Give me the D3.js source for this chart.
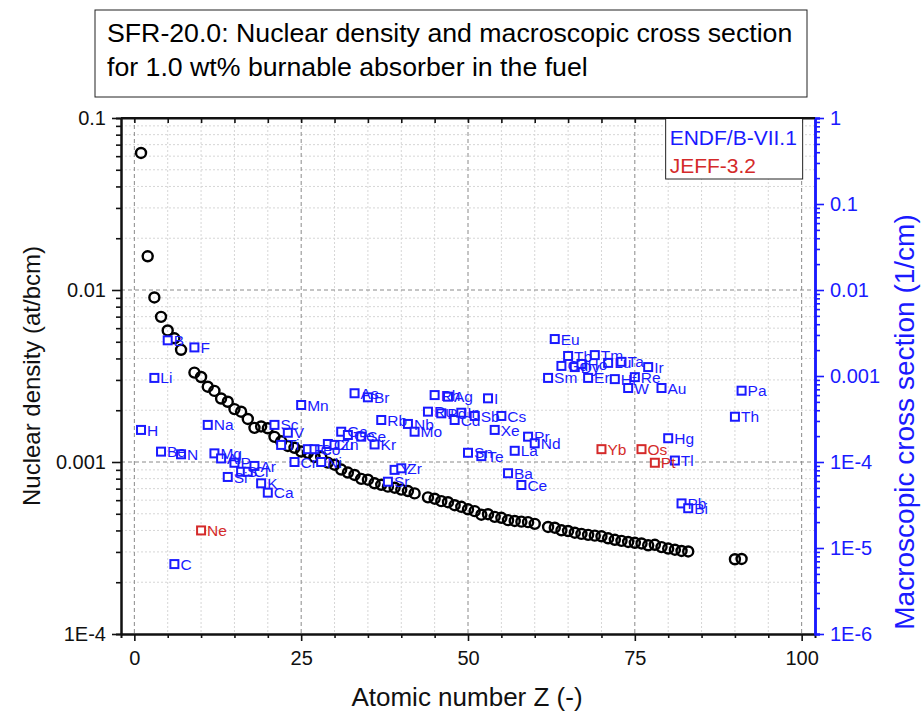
<!DOCTYPE html>
<html lang="en">
<head>
<meta charset="utf-8"/>
<script src="https://d3js.org/d3.v7.min.js"></script>
<style>
  body { margin: 0; background: #fff; }
  svg text { font-family: "Liberation Sans", Arial, sans-serif; }
</style>
</head>
<body>
<div id="chart"></div>
<script>
// nuclear density (at/bcm), left axis
var densZ = [1,2,3,4,5,6,7,9,10,11,12,13,14,15,16,17,18,19,20,21,22,23,24,25,26,27,28,29,30,
    31,32,33,34,35,36,37,38,39,40,41,42,44,45,46,47,48,49,50,51,52,53,54,55,56,57,58,59,60,
    62,63,64,65,66,67,68,69,70,71,72,73,74,75,76,77,78,79,80,81,82,83,90,91];
var densVal = [0.0626,0.0157,0.00905,0.00698,0.00582,0.00524,0.00449,0.00331,0.00312,0.00274,
    0.00259,0.00234,0.00224,0.00203,0.00196,0.00178,0.00158,0.00161,0.00157,0.00140,0.00132,
    0.00124,0.00121,0.00115,0.00113,0.00107,0.00107,0.000992,0.000964,0.000904,0.000868,
    0.000841,0.000798,0.000789,0.000752,0.000737,0.000719,0.000709,0.000691,0.000678,0.000657,
    0.000623,0.000612,0.000592,0.000584,0.000561,0.000549,0.000531,0.000518,0.000494,0.000497,
    0.000480,0.000474,0.000459,0.000454,0.000450,0.000447,0.000437,0.000419,0.000415,0.000401,
    0.000397,0.000388,0.000382,0.000377,0.000373,0.000370,0.000360,0.000353,0.000348,0.000343,
    0.000339,0.000336,0.000328,0.000330,0.000320,0.000314,0.000309,0.000304,0.000302,0.000272,
    0.000273];

// macroscopic cross section (1/cm), right axis
var endfSym = ["H","Li","Be","B","C","N","F","Na","Mg","Al","Si","P","S","Cl","Ar","K","Ca",
    "Sc","Ti","V","Cr","Mn","Fe","Co","Ni","Cu","Zn","Ga","Ge","As","Se","Br","Kr","Rb","Sr",
    "Y","Zr","Nb","Mo","Ru","Rh","Pd","Ag","Cd","In","Sn","Sb","Te","I","Xe","Cs","Ba","La",
    "Ce","Pr","Nd","Sm","Eu","Gd","Tb","Dy","Ho","Er","Tm","Lu","Hf","Ta","W","Re","Ir","Au",
    "Hg","Tl","Pb","Bi","Th","Pa"];
var endfZ = [1,3,4,5,6,7,9,11,12,13,14,15,16,17,18,19,20,21,22,23,24,25,26,27,28,29,30,31,32,
    33,34,35,36,37,38,39,40,41,42,44,45,46,47,48,49,50,51,52,53,54,55,56,57,58,59,60,62,63,64,
    65,66,67,68,69,71,72,73,74,75,77,79,80,81,82,83,90,91];
var endfVal = [2.36e-4,9.5e-4,1.32e-4,2.6e-3,6.5e-6,1.23e-4,2.15e-3,2.7e-4,1.26e-4,1.1e-4,
    6.7e-5,9.8e-5,7.7e-5,7.7e-5,9.0e-5,5.65e-5,4.4e-5,2.7e-4,1.58e-4,2.19e-4,1.0e-4,4.6e-4,
    1.41e-4,1.41e-4,1.0e-4,1.62e-4,1.58e-4,2.25e-4,2.06e-4,6.3e-4,1.97e-4,5.65e-4,1.6e-4,
    3.08e-4,5.9e-5,8.1e-5,8.45e-5,2.77e-4,2.25e-4,3.85e-4,6.0e-4,3.68e-4,5.75e-4,3.08e-4,
    3.74e-4,1.28e-4,3.43e-4,1.17e-4,5.5e-4,2.36e-4,3.43e-4,7.4e-5,1.35e-4,5.4e-5,1.97e-4,
    1.65e-4,9.5e-4,2.69e-3,1.31e-3,1.71e-3,1.27e-3,1.38e-3,9.5e-4,1.75e-3,1.42e-3,9.2e-4,
    1.46e-3,7.25e-4,9.7e-4,1.27e-3,7.25e-4,1.89e-4,1.04e-4,3.3e-5,2.9e-5,3.36e-4,6.75e-4];

var jeffSym = ["Ne","Yb","Os","Pt"];
var jeffZ = [10,70,76,78];
var jeffVal = [1.6e-5,1.41e-4,1.41e-4,9.8e-5];

var xTicks = [0,25,50,75,100];
var leftTicks = [0.1,0.01,0.001,0.0001];
var leftLabels = ["0.1","0.01","0.001","1E-4"];
var rightTicks = [1,0.1,0.01,0.001,0.0001,0.00001,0.000001];
var rightLabels = ["1","0.1","0.01","0.001","1E-4","1E-5","1E-6"];

var BLUE = "#1a1aff", RED = "#d42a2a";

var W = 924, H = 719;
var margin = {top: 118, right: 109, bottom: 85, left: 121};
var width = W - margin.left - margin.right;
var height = H - margin.top - margin.bottom;

var svg = d3.select("#chart").append("svg")
    .attr("width", W).attr("height", H);

// title box
svg.append("rect").attr("x", 95).attr("y", 10).attr("width", 712).attr("height", 87)
    .attr("fill", "#fff").attr("stroke", "#222").attr("stroke-width", 1);
svg.append("text").attr("x", 107).attr("y", 42).attr("font-size", 26.7)
    .text("SFR-20.0: Nuclear density and macroscopic cross section");
svg.append("text").attr("x", 107).attr("y", 76).attr("font-size", 26.7)
    .text("for 1.0 wt% burnable absorber in the fuel");

var g = svg.append("g").attr("transform", "translate(" + margin.left + "," + margin.top + ")");

var x = d3.scaleLinear().domain([-2, 102]).range([0, width]);
var yL = d3.scaleLog().domain([1e-4, 0.1]).range([height, 0]);
var yR = d3.scaleLog().domain([1e-6, 1]).range([height, 0]);

var xMinor = d3.range(0, 101, 5).filter(function (d) { return d % 25 !== 0; });
var xAll = d3.range(0, 101, 5);
function minorLog(lo, hi) {
    var out = [];
    for (var d = lo; d < hi * 0.999; d *= 10)
        for (var m = 2; m <= 9; m++) out.push(d * m);
    return out;
}
var yLMinor = minorLog(1e-4, 0.1);
var yRMinor = minorLog(1e-6, 1);

// grid
g.selectAll(".gxm").data(xMinor).enter().append("line")
    .attr("x1", x).attr("x2", x).attr("y1", 0).attr("y2", height)
    .attr("stroke", "#d6d6d6").attr("stroke-dasharray", "2,2");
g.selectAll(".gym").data(yLMinor).enter().append("line")
    .attr("x1", 0).attr("x2", width).attr("y1", yL).attr("y2", yL)
    .attr("stroke", "#d6d6d6").attr("stroke-dasharray", "2,2");
g.selectAll(".gx").data(xTicks).enter().append("line")
    .attr("x1", x).attr("x2", x).attr("y1", 0).attr("y2", height)
    .attr("stroke", "#8a8a8a").attr("stroke-dasharray", "4,3");
g.selectAll(".gy").data([0.01, 0.001]).enter().append("line")
    .attr("x1", 0).attr("x2", width).attr("y1", yL).attr("y2", yL)
    .attr("stroke", "#8a8a8a").attr("stroke-dasharray", "4,3");

// axes
function styleAxis(sel, color) {
    sel.selectAll("path").attr("stroke", color).attr("stroke-width", 2);
    sel.selectAll("line").attr("stroke", color).attr("stroke-width", 1.6);
    sel.selectAll("text").attr("font-size", 20).attr("fill", color)
        .attr("font-family", "Liberation Sans, Arial, sans-serif");
}

var bx = g.append("g").attr("transform", "translate(0," + height + ")")
    .call(d3.axisBottom(x).tickValues(xTicks).tickSizeInner(7).tickSizeOuter(0).tickPadding(10));
styleAxis(bx, "#111");
var bxm = g.append("g").attr("transform", "translate(0," + height + ")")
    .call(d3.axisBottom(x).tickValues(xMinor).tickSize(4).tickFormat(""));
styleAxis(bxm, "#111");

var tx = g.append("g")
    .call(d3.axisTop(x).tickValues(xAll).tickSizeInner(-5).tickSizeOuter(0).tickFormat(""));
styleAxis(tx, "#111");

var ly = g.append("g")
    .call(d3.axisLeft(yL).tickValues(leftTicks).tickSizeInner(9).tickSizeOuter(0).tickPadding(6)
        .tickFormat(function (d, i) { return leftLabels[i]; }));
styleAxis(ly, "#111");
var lym = g.append("g")
    .call(d3.axisLeft(yL).tickValues(yLMinor).tickSize(5).tickFormat(""));
styleAxis(lym, "#111");

var ry = g.append("g").attr("transform", "translate(" + width + ",0)")
    .call(d3.axisRight(yR).tickValues(rightTicks).tickSizeInner(9).tickSizeOuter(0).tickPadding(6)
        .tickFormat(function (d, i) { return rightLabels[i]; }));
styleAxis(ry, BLUE);
ry.select("path").attr("stroke-width", 2.5);
var rym = g.append("g").attr("transform", "translate(" + width + ",0)")
    .call(d3.axisRight(yR).tickValues(yRMinor).tickSize(5).tickFormat(""));
styleAxis(rym, BLUE);
rym.select("path").attr("stroke-width", 2.5);

// axis titles
svg.append("text").attr("transform", "translate(40," + (margin.top + height / 2) + ") rotate(-90)")
    .attr("text-anchor", "middle").attr("font-size", 24).attr("fill", "#111")
    .text("Nuclear density (at/bcm)");
svg.append("text").attr("x", 467).attr("y", 706)
    .attr("text-anchor", "middle").attr("font-size", 26).attr("fill", "#111")
    .text("Atomic number Z (-)");
svg.append("text").attr("transform", "translate(914," + (margin.top + height / 2 + 46) + ") rotate(-90)")
    .attr("text-anchor", "middle").attr("font-size", 28).attr("fill", BLUE)
    .text("Macroscopic cross section (1/cm)");

// density circles
g.selectAll(".dens").data(densZ).enter().append("circle")
    .attr("cx", function (d) { return x(d); })
    .attr("cy", function (d, i) { return yL(densVal[i]); })
    .attr("r", 5).attr("fill", "none").attr("stroke", "#000").attr("stroke-width", 2.4);

// cross section squares with labels
function squares(zs, vals, syms, color) {
    var s = g.append("g");
    s.selectAll("rect").data(zs).enter().append("rect")
        .attr("x", function (d) { return x(d) - 4; })
        .attr("y", function (d, i) { return yR(vals[i]) - 4; })
        .attr("width", 8).attr("height", 8)
        .attr("fill", "#fff").attr("stroke", color).attr("stroke-width", 2);
    s.selectAll("text").data(zs).enter().append("text")
        .attr("x", function (d) { return x(d) + 6; })
        .attr("y", function (d, i) { return yR(vals[i]); })
        .attr("dy", "0.36em").attr("font-size", 15.5).attr("fill", color)
        .text(function (d, i) { return syms[i]; });
}
squares(endfZ, endfVal, endfSym, BLUE);
squares(jeffZ, jeffVal, jeffSym, RED);

// legend
var lg = g.append("g").attr("transform", "translate(" + (x(100) - 136) + ",0)");
lg.append("rect").attr("x", 0).attr("y", 0).attr("width", 137).attr("height", 61)
    .attr("fill", "#fff").attr("stroke", "#222").attr("stroke-width", 1);
lg.append("text").attr("x", 4).attr("y", 27).attr("font-size", 21).attr("fill", BLUE).text("ENDF/B-VII.1");
lg.append("text").attr("x", 4).attr("y", 55).attr("font-size", 21).attr("fill", RED).text("JEFF-3.2");

// frame
g.append("line").attr("x1", 0).attr("x2", width).attr("y1", 0).attr("y2", 0)
    .attr("stroke", "#111").attr("stroke-width", 2);
</script>
</body>
</html>
